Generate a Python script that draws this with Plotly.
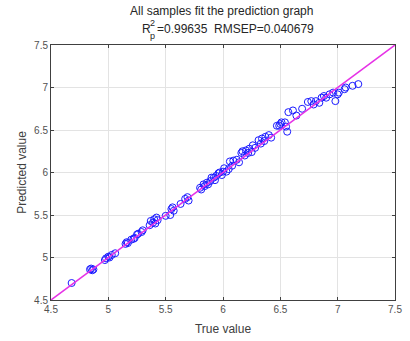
import plotly.graph_objects as go

# Measured (true) and model-predicted values for every sample
true_vals = [
    4.68, 4.84, 4.85, 4.86, 4.87,
    4.97, 4.98, 5.00, 5.01, 5.03, 5.06,
    5.15, 5.16, 5.17, 5.20, 5.22, 5.23, 5.25, 5.26, 5.29, 5.30,
    5.36, 5.37, 5.39, 5.40, 5.41, 5.42, 5.43, 5.50,
    5.54, 5.55, 5.56, 5.57, 5.63, 5.67, 5.69, 5.70,
    5.80, 5.81, 5.83, 5.84, 5.86, 5.87, 5.89, 5.90, 5.92, 5.93, 5.94, 5.96, 5.97, 5.99, 6.00,
    6.01, 6.03, 6.05, 6.06, 6.08, 6.09, 6.12, 6.14,
    6.16, 6.17, 6.19, 6.20, 6.22, 6.23, 6.25, 6.26, 6.28,
    6.31, 6.33, 6.34, 6.36, 6.37, 6.40, 6.42,
    6.47, 6.49, 6.50, 6.51, 6.54, 6.55, 6.56, 6.57,
    6.61, 6.64, 6.69, 6.74, 6.77, 6.79, 6.81, 6.84, 6.86, 6.88, 6.90,
    6.93, 6.96, 6.98, 7.00, 7.01, 7.06, 7.07, 7.13, 7.18,
]
pred_vals = [
    4.70, 4.86, 4.87, 4.85, 4.86,
    4.97, 4.99, 5.01, 5.00, 5.03, 5.05,
    5.16, 5.18, 5.17, 5.21, 5.22, 5.23, 5.27, 5.28, 5.30, 5.32,
    5.38, 5.43, 5.41, 5.45, 5.40, 5.47, 5.44, 5.49,
    5.50, 5.57, 5.59, 5.55, 5.63, 5.69, 5.71, 5.67,
    5.82, 5.80, 5.86, 5.84, 5.88, 5.86, 5.90, 5.94, 5.94, 5.91, 5.96, 5.99, 6.00, 5.97, 6.01,
    6.05, 6.01, 6.04, 6.13, 6.08, 6.14, 6.15, 6.12,
    6.23, 6.25, 6.20, 6.26, 6.23, 6.28, 6.24, 6.32, 6.29,
    6.38, 6.34, 6.40, 6.37, 6.42, 6.44, 6.41,
    6.55, 6.55, 6.57, 6.59, 6.59, 6.54, 6.48, 6.71,
    6.73, 6.67, 6.75, 6.83, 6.84, 6.80, 6.84, 6.82, 6.88, 6.90, 6.88,
    6.92, 6.94, 6.84, 6.92, 6.94, 6.98, 7.00, 7.02, 7.04,
]

# Ideal y = x reference line across the axis range
ideal_line = [4.5, 7.5]

axis_ticks = [4.5, 5, 5.5, 6, 6.5, 7, 7.5]
axis_tick_text = ["4.5", "5", "5.5", "6", "6.5", "7", "7.5"]

title_text = "All samples fit the prediction graph"
stats_text = "=0.99635  RMSEP=0.040679"

FONT = "Liberation Sans, Arial, sans-serif"
TEXT = "#262626"

fig = go.Figure()
fig.add_trace(go.Scatter(
    x=true_vals, y=pred_vals, mode="markers",
    marker=dict(symbol="circle-open", size=7, color="#1a1aff",
                line=dict(width=1, color="#1a1aff")),
    showlegend=False,
))
fig.add_trace(go.Scatter(
    x=ideal_line, y=ideal_line, mode="lines",
    line=dict(color="#e632e6", width=1.5),
    showlegend=False,
))

axis_common = dict(
    range=[4.5, 7.5], tickvals=axis_ticks, ticktext=axis_tick_text,
    showgrid=True, gridcolor="#e3e3e3", gridwidth=1,
    zeroline=False, showline=True, linecolor="#404040", linewidth=1,
    mirror="ticks", ticks="inside", ticklen=3, tickcolor="#404040",
    tickfont=dict(family=FONT, size=10, color="#505050"),
)

fig.update_layout(
    width=410, height=341,
    margin=dict(l=51, r=8, t=45, b=37),
    paper_bgcolor="white", plot_bgcolor="white",
    font=dict(family=FONT, color=TEXT),
    xaxis=dict(**axis_common,
               title=dict(text="True value", standoff=10,
                          font=dict(family=FONT, size=12, color="#404040"))),
    yaxis=dict(**axis_common,
               title=dict(text="Predicted value", standoff=4,
                          font=dict(family=FONT, size=12, color="#404040"))),
)

# Two-line title: heading plus R²p statistics with stacked sub/superscript
fig.add_annotation(x=(225 - 51) / 351, y=1.0, xref="paper", yref="paper", yshift=25,
                   text=title_text, showarrow=False, xanchor="center", yanchor="bottom",
                   font=dict(family=FONT, size=12, color=TEXT))
fig.add_annotation(x=(142 - 51) / 351, y=1.0, xref="paper", yref="paper", yshift=7,
                   text="R", showarrow=False, xanchor="left", yanchor="bottom",
                   font=dict(family=FONT, size=12, color=TEXT))
fig.add_annotation(x=(150 - 51) / 351, y=1.0, xref="paper", yref="paper", yshift=15,
                   text="2", showarrow=False, xanchor="left", yanchor="bottom",
                   font=dict(family=FONT, size=9, color=TEXT))
fig.add_annotation(x=(150 - 51) / 351, y=1.0, xref="paper", yref="paper", yshift=2,
                   text="p", showarrow=False, xanchor="left", yanchor="bottom",
                   font=dict(family=FONT, size=9, color=TEXT))
fig.add_annotation(x=(157 - 51) / 351, y=1.0, xref="paper", yref="paper", yshift=7,
                   text=stats_text, showarrow=False, xanchor="left", yanchor="bottom",
                   font=dict(family=FONT, size=12, color=TEXT))

fig.write_html("out.html")
